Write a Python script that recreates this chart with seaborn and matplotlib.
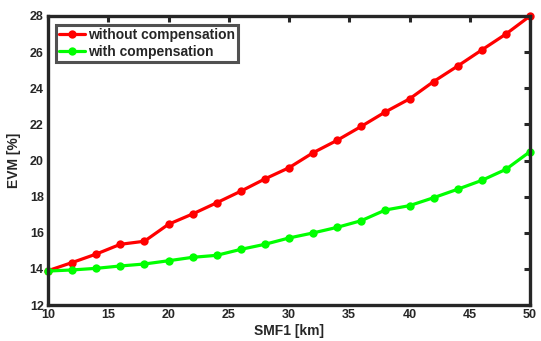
import numpy as np
import pandas as pd
import matplotlib
matplotlib.use("Agg")
import matplotlib.pyplot as plt
import seaborn as sns

smf1_km = [10, 12, 14, 16, 18, 20, 22, 24, 26, 28, 30, 32, 34, 36, 38, 40, 42, 44, 46, 48, 50]
evm_without = [13.9, 14.35, 14.82, 15.36, 15.53, 16.47, 17.04, 17.66, 18.30, 18.98, 19.6,
               20.43, 21.12, 21.89, 22.69, 23.41, 24.37, 25.23, 26.12, 27.0, 28.0]
evm_with = [13.88, 13.94, 14.03, 14.16, 14.27, 14.45, 14.64, 14.75, 15.08, 15.36, 15.71,
            15.99, 16.3, 16.67, 17.26, 17.50, 17.94, 18.41, 18.9, 19.51, 20.49]
series_names = ["without compensation", "with compensation"]
x_ticks = [10, 15, 20, 25, 30, 35, 40, 45, 50]
y_ticks = [12, 14, 16, 18, 20, 22, 24, 26, 28]

df = pd.DataFrame({
    "SMF1": smf1_km * 2,
    "EVM": evm_without + evm_with,
    "series": [series_names[0]] * len(smf1_km) + [series_names[1]] * len(smf1_km),
})

sns.set_style("white")
plt.rcParams['font.family'] = ['Liberation Sans', 'DejaVu Sans']
plt.rcParams['font.weight'] = 'bold'

fig = plt.figure(figsize=(5.41, 3.41), dpi=100)
ax = fig.add_axes([48/541, 36/341, (530-48)/541, (305-16)/341])

sns.lineplot(data=df, x="SMF1", y="EVM", hue="series", hue_order=series_names,
             palette={series_names[0]: "#ff0000", series_names[1]: "#00ff00"},
             style="series", markers={series_names[0]: "o", series_names[1]: "o"},
             dashes=False, linewidth=2.3, markersize=6, markeredgewidth=0,
             ax=ax, clip_on=False)

ax.set_xlim(10, 50)
ax.set_ylim(12, 28)
ax.set_xticks(x_ticks)
ax.set_yticks(y_ticks)
ax.tick_params(direction='in', length=4, width=2.2, colors='#262626', labelsize=9,
               top=True, right=True, labelcolor='#262626', pad=3)
for lab in ax.get_xticklabels() + ax.get_yticklabels():
    lab.set_fontweight('bold')
for s in ax.spines.values():
    s.set_linewidth(2.4)
    s.set_color('#262626')
    s.set_visible(True)
ax.set_xlabel("SMF1 [km]", fontsize=10, fontweight='bold', color='#262626', labelpad=2)
ax.set_ylabel("EVM [%]", fontsize=10, fontweight='bold', color='#262626', labelpad=6)

leg = ax.legend(loc='upper left', bbox_to_anchor=(0.007, 0.985), frameon=True, fancybox=False,
                fontsize=10, handlelength=1.9, handletextpad=0.2, borderpad=0.22,
                labelspacing=0.22, borderaxespad=0.3)
leg.get_frame().set_edgecolor('#262626')
leg.get_frame().set_linewidth(2.2)
for t in leg.get_texts():
    t.set_fontweight('bold')

fig.savefig("out.png", dpi=100)
